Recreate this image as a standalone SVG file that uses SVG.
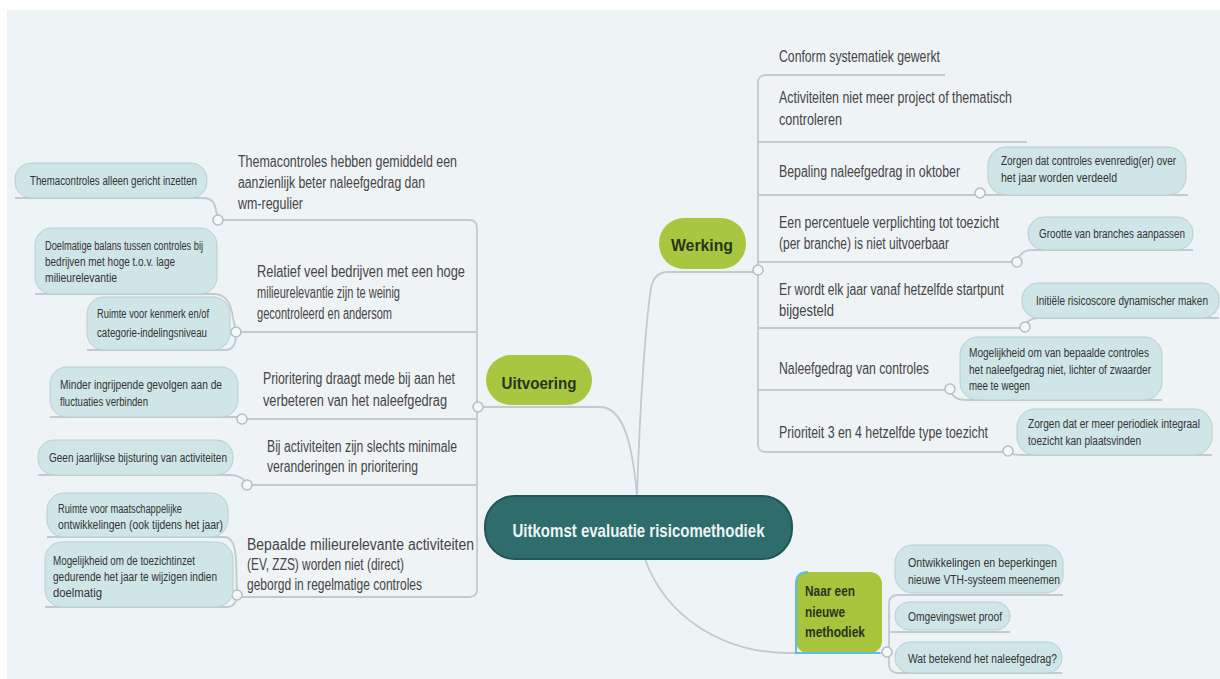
<svg xmlns="http://www.w3.org/2000/svg" width="1220" height="679" viewBox="0 0 1220 679">
<style>
text{font-family:"Liberation Sans",Arial,sans-serif}
.t{font-size:16px;fill:#454545}
.l{font-size:12.5px;fill:#333}
.g{font-size:17px;font-weight:bold;fill:#2a3420}
.pill{fill:#cfe5e7;stroke:#b7cfd2;stroke-width:1}
.con{fill:none;stroke:#c3cacf;stroke-width:1.8}
.knob{fill:#f5f8f9;stroke:#b5bec3;stroke-width:1.5}
</style>
<rect x="0" y="0" width="1220" height="679" fill="#ffffff"/>
<rect x="7" y="10" width="1213" height="669" fill="#eef3f6"/>

<g id="connectors">
<path class="con" d="M637 496 C633 450 625 407 600 407 H478"/>
<path class="con" d="M637 496 C640 400 646 320 651 288 Q654 272 668 272 H760"/>
<path class="con" d="M645 559 C665 615 720 653 790 653 H887"/>
<path class="con" d="M218 220 H469 Q477 220 477 228 V589 Q477 597 469 597 H237"/>
<path class="con" d="M236 332 H477"/>
<path class="con" d="M242 419 H477"/>
<path class="con" d="M247 485 H477"/>
<path class="con" d="M15 198 H204 Q214 198 216 210 L218 220"/>
<path class="con" d="M35 294 H214 Q230 294 233 318 L236 332"/>
<path class="con" d="M87 350 H226 Q234 350 236 338 L236 332"/>
<path class="con" d="M50 417 H238 L242 419"/>
<path class="con" d="M38 475 H230 Q243 475 247 485"/>
<path class="con" d="M47 537 H224 Q235 537 236 560 L237 595"/>
<path class="con" d="M45 607 H228 Q236 607 237 595"/>
<path class="con" d="M945 75 H766 Q758 75 758 83 V444 Q758 452 766 452 H1008"/>
<path class="con" d="M758 142 H1027"/>
<path class="con" d="M758 195 H1188"/>
<path class="con" d="M758 262 H1017"/>
<path class="con" d="M758 328 H1025"/>
<path class="con" d="M758 390 H950"/>
<path class="con" d="M1017 262 Q1020 250 1032 250 H1193"/>
<path class="con" d="M1025 328 Q1027 318 1038 318 H1219"/>
<path class="con" d="M950 390 Q953 400 966 400 H1162"/>
<path class="con" d="M1008 452 Q1012 455 1022 455 H1212"/>
<path class="con" d="M1063 595 H898 Q889 595 889 604 V664 Q889 673 898 673 H1062"/>
<path class="con" d="M889 632 H1010"/>
</g>

<g id="knobs">
<circle class="knob" cx="478" cy="407" r="5"/>
<circle class="knob" cx="758" cy="270" r="5"/>
<circle class="knob" cx="887" cy="652" r="5"/>
<circle class="knob" cx="218" cy="220" r="5"/>
<circle class="knob" cx="236" cy="332" r="5"/>
<circle class="knob" cx="242" cy="419" r="5"/>
<circle class="knob" cx="247" cy="485" r="5"/>
<circle class="knob" cx="237" cy="595" r="5"/>
<circle class="knob" cx="980" cy="193" r="5"/>
<circle class="knob" cx="1017" cy="262" r="5"/>
<circle class="knob" cx="1025" cy="327" r="5"/>
<circle class="knob" cx="950" cy="389" r="5"/>
<circle class="knob" cx="1008" cy="451" r="5"/>
</g>

<g id="central">
<rect x="485" y="496" width="307" height="63" rx="30" fill="#2e6d6c" stroke="#235656" stroke-width="2"/>
<text x="638.5" y="537" text-anchor="middle" font-size="19" font-weight="bold" fill="#eef4f3" textLength="252" lengthAdjust="spacingAndGlyphs">Uitkomst evaluatie risicomethodiek</text>
</g>

<g id="uitvoering">
<rect x="486" y="355" width="106" height="50" rx="25" fill="#a6c73f"/>
<text class="g" x="539" y="389" text-anchor="middle" textLength="75" lengthAdjust="spacingAndGlyphs">Uitvoering</text>
</g>

<g id="werking">
<rect x="659" y="218" width="87" height="51" rx="25" fill="#a6c73f"/>
<text class="g" x="702" y="251" text-anchor="middle" textLength="62" lengthAdjust="spacingAndGlyphs">Werking</text>
</g>

<g id="naar">
<rect x="796" y="572" width="86" height="81" rx="12" fill="#a6c43c"/>
<path d="M808 572 Q796 572 796 584 V653 H880" fill="none" stroke="#62bbe6" stroke-width="2"/>
<text class="g" x="805" y="596" textLength="50" lengthAdjust="spacingAndGlyphs" style="font-size:15px">Naar een</text>
<text class="g" x="805" y="617" textLength="40" lengthAdjust="spacingAndGlyphs" style="font-size:15px">nieuwe</text>
<text class="g" x="805" y="637" textLength="60" lengthAdjust="spacingAndGlyphs" style="font-size:15px">methodiek</text>
</g>

<g id="t-thema">
<text class="t" x="238" y="167" textLength="219" lengthAdjust="spacingAndGlyphs">Themacontroles hebben gemiddeld een</text>
<text class="t" x="238" y="188" textLength="187" lengthAdjust="spacingAndGlyphs">aanzienlijk beter naleefgedrag dan</text>
<text class="t" x="238" y="209" textLength="65" lengthAdjust="spacingAndGlyphs">wm-regulier</text>
</g>
<g id="t-relatief">
<text class="t" x="257" y="277" textLength="208" lengthAdjust="spacingAndGlyphs">Relatief veel bedrijven met een hoge</text>
<text class="t" x="257" y="298" textLength="143" lengthAdjust="spacingAndGlyphs">milieurelevantie zijn te weinig</text>
<text class="t" x="257" y="319" textLength="135" lengthAdjust="spacingAndGlyphs">gecontroleerd en andersom</text>
</g>
<g id="t-prioritering">
<text class="t" x="263" y="384" textLength="192" lengthAdjust="spacingAndGlyphs">Prioritering draagt mede bij aan het</text>
<text class="t" x="263" y="406" textLength="184" lengthAdjust="spacingAndGlyphs">verbeteren van het naleefgedrag</text>
</g>
<g id="t-activiteiten">
<text class="t" x="267" y="452" textLength="190" lengthAdjust="spacingAndGlyphs">Bij activiteiten zijn slechts minimale</text>
<text class="t" x="267" y="472" textLength="151" lengthAdjust="spacingAndGlyphs">veranderingen in prioritering</text>
</g>
<g id="t-bepaalde">
<text class="t" x="247" y="550" textLength="227" lengthAdjust="spacingAndGlyphs">Bepaalde milieurelevante activiteiten</text>
<text class="t" x="247" y="570" textLength="157" lengthAdjust="spacingAndGlyphs">(EV, ZZS) worden niet (direct)</text>
<text class="t" x="247" y="590" textLength="175" lengthAdjust="spacingAndGlyphs">geborgd in regelmatige controles</text>
</g>

<g id="l-thema">
<rect class="pill" x="15" y="163" width="192" height="35" rx="16"/>
<text class="l" x="30" y="185" textLength="167" lengthAdjust="spacingAndGlyphs">Themacontroles alleen gericht inzetten</text>
</g>
<g id="l-doelmatige">
<rect class="pill" x="35" y="228" width="182" height="66" rx="17"/>
<text class="l" x="45" y="250" textLength="158" lengthAdjust="spacingAndGlyphs">Doelmatige balans tussen controles bij</text>
<text class="l" x="45" y="266" textLength="130" lengthAdjust="spacingAndGlyphs">bedrijven met hoge t.o.v. lage</text>
<text class="l" x="45" y="282" textLength="72" lengthAdjust="spacingAndGlyphs">milieurelevantie</text>
</g>
<g id="l-ruimte">
<rect class="pill" x="87" y="297" width="143" height="53" rx="17"/>
<text class="l" x="97" y="318" textLength="112" lengthAdjust="spacingAndGlyphs">Ruimte voor kenmerk en/of</text>
<text class="l" x="97" y="337" textLength="110" lengthAdjust="spacingAndGlyphs">categorie-indelingsniveau</text>
</g>
<g id="l-minder">
<rect class="pill" x="50" y="367" width="188" height="50" rx="17"/>
<text class="l" x="60" y="389" textLength="162" lengthAdjust="spacingAndGlyphs">Minder ingrijpende gevolgen aan de</text>
<text class="l" x="60" y="406" textLength="88" lengthAdjust="spacingAndGlyphs">fluctuaties verbinden</text>
</g>
<g id="l-geen">
<rect class="pill" x="38" y="440" width="195" height="35" rx="16"/>
<text class="l" x="49" y="462" textLength="178" lengthAdjust="spacingAndGlyphs">Geen jaarlijkse bijsturing van activiteiten</text>
</g>
<g id="l-maatschappelijk">
<rect class="pill" x="47" y="493" width="181" height="44" rx="17"/>
<text class="l" x="58" y="513" textLength="124" lengthAdjust="spacingAndGlyphs">Ruimte voor maatschappelijke</text>
<text class="l" x="58" y="529" textLength="165" lengthAdjust="spacingAndGlyphs">ontwikkelingen (ook tijdens het jaar)</text>
</g>
<g id="l-mogelijkheid">
<rect class="pill" x="45" y="542" width="188" height="65" rx="17"/>
<text class="l" x="53" y="565" textLength="142" lengthAdjust="spacingAndGlyphs">Mogelijkheid om de toezichtinzet</text>
<text class="l" x="53" y="581" textLength="164" lengthAdjust="spacingAndGlyphs">gedurende het jaar te wijzigen indien</text>
<text class="l" x="53" y="597" textLength="49" lengthAdjust="spacingAndGlyphs">doelmatig</text>
</g>

<g id="t-conform">
<text class="t" x="779" y="62" textLength="161" lengthAdjust="spacingAndGlyphs">Conform systematiek gewerkt</text>
</g>
<g id="t-project">
<text class="t" x="779" y="103" textLength="233" lengthAdjust="spacingAndGlyphs">Activiteiten niet meer project of thematisch</text>
<text class="t" x="779" y="125" textLength="63" lengthAdjust="spacingAndGlyphs">controleren</text>
</g>
<g id="t-bepaling">
<text class="t" x="779" y="177" textLength="181" lengthAdjust="spacingAndGlyphs">Bepaling naleefgedrag in oktober</text>
</g>
<g id="t-percentuele">
<text class="t" x="779" y="228" textLength="220" lengthAdjust="spacingAndGlyphs">Een percentuele verplichting tot toezicht</text>
<text class="t" x="779" y="249" textLength="170" lengthAdjust="spacingAndGlyphs">(per branche) is niet uitvoerbaar</text>
</g>
<g id="t-startpunt">
<text class="t" x="779" y="295" textLength="225" lengthAdjust="spacingAndGlyphs">Er wordt elk jaar vanaf hetzelfde startpunt</text>
<text class="t" x="779" y="316" textLength="55" lengthAdjust="spacingAndGlyphs">bijgesteld</text>
</g>
<g id="t-naleefgedrag">
<text class="t" x="779" y="374" textLength="150" lengthAdjust="spacingAndGlyphs">Naleefgedrag van controles</text>
</g>
<g id="t-prioriteit">
<text class="t" x="779" y="438" textLength="209" lengthAdjust="spacingAndGlyphs">Prioriteit 3 en 4 hetzelfde type toezicht</text>
</g>

<g id="l-evenredig">
<rect class="pill" x="988" y="147" width="198" height="48" rx="18"/>
<text class="l" x="1001" y="165" textLength="175" lengthAdjust="spacingAndGlyphs">Zorgen dat controles evenredig(er) over</text>
<text class="l" x="1001" y="182" textLength="116" lengthAdjust="spacingAndGlyphs">het jaar worden verdeeld</text>
</g>
<g id="l-grootte">
<rect class="pill" x="1028" y="217" width="165" height="33" rx="16"/>
<text class="l" x="1039" y="238" textLength="146" lengthAdjust="spacingAndGlyphs">Grootte van branches aanpassen</text>
</g>
<g id="l-initiele">
<rect class="pill" x="1022" y="283" width="197" height="35" rx="16"/>
<text class="l" x="1036" y="305" textLength="172" lengthAdjust="spacingAndGlyphs">Initiële risicoscore dynamischer maken</text>
</g>
<g id="l-wegen">
<rect class="pill" x="960" y="337" width="202" height="63" rx="18"/>
<text class="l" x="969" y="357" textLength="180" lengthAdjust="spacingAndGlyphs">Mogelijkheid om van bepaalde controles</text>
<text class="l" x="969" y="374" textLength="182" lengthAdjust="spacingAndGlyphs">het naleefgedrag niet, lichter of zwaarder</text>
<text class="l" x="969" y="390" textLength="61" lengthAdjust="spacingAndGlyphs">mee te wegen</text>
</g>
<g id="l-integraal">
<rect class="pill" x="1017" y="409" width="195" height="46" rx="18"/>
<text class="l" x="1028" y="428" textLength="172" lengthAdjust="spacingAndGlyphs">Zorgen dat er meer periodiek integraal</text>
<text class="l" x="1028" y="445" textLength="113" lengthAdjust="spacingAndGlyphs">toezicht kan plaatsvinden</text>
</g>

<g id="l-vth">
<rect class="pill" x="895" y="545" width="168" height="48" rx="18"/>
<text class="l" x="908" y="567" textLength="149" lengthAdjust="spacingAndGlyphs">Ontwikkelingen en beperkingen</text>
<text class="l" x="908" y="584" textLength="152" lengthAdjust="spacingAndGlyphs">nieuwe VTH-systeem meenemen</text>
</g>
<g id="l-omgevingswet">
<rect class="pill" x="895" y="602" width="115" height="28" rx="14"/>
<text class="l" x="908" y="621" textLength="94" lengthAdjust="spacingAndGlyphs">Omgevingswet proof</text>
</g>
<g id="l-betekend">
<rect class="pill" x="895" y="642" width="167" height="31" rx="15"/>
<text class="l" x="908" y="663" textLength="149" lengthAdjust="spacingAndGlyphs">Wat betekend het naleefgedrag?</text>
</g>
</svg>
